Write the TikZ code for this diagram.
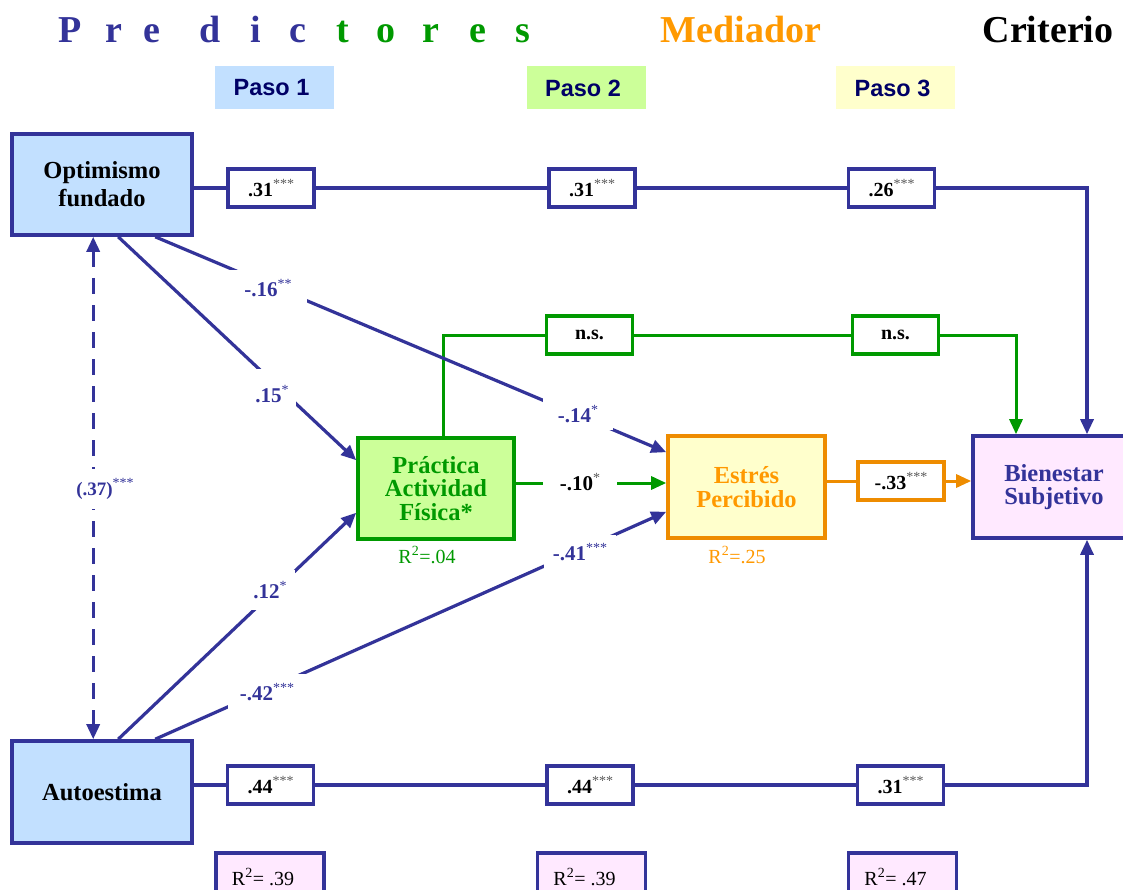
\documentclass[tikz,border=0pt]{standalone}
\usepackage{fontspec}
\setmainfont{Liberation Serif}
\newfontfamily\pasofont{Liberation Sans}
\usetikzlibrary{arrows.meta,calc}

\definecolor{navy}{HTML}{333399}
\definecolor{grn}{HTML}{009900}
\definecolor{orn}{HTML}{EE8C00}
\definecolor{orntext}{HTML}{FF9900}
\definecolor{blueFill}{HTML}{C2E0FF}
\definecolor{greenFill}{HTML}{CCFF99}
\definecolor{yellowFill}{HTML}{FFFFCC}
\definecolor{pinkFill}{HTML}{FFE9FF}
\definecolor{pasotext}{HTML}{000066}

% significance stars
\newcommand\sg[1]{\raisebox{0.42em}{\fontsize{14}{14}\selectfont\mdseries #1}}
\newcommand\gsg[1]{\textcolor{black!65}{\sg{#1}}}

\tikzset{
  every node/.style={inner sep=0pt},
  var/.style={draw=navy, line width=3.6pt, minimum width=180pt, minimum height=101pt,
    align=center, font=\fontsize{24.5}{28}\selectfont\bfseries},
  coef/.style={draw=navy, fill=white, line width=3.3pt, minimum width=86pt,
    minimum height=38pt, font=\fontsize{20}{22}\selectfont\bfseries},
  gap/.style={fill=white, font=\fontsize{21}{22}\selectfont\bfseries, text=navy},
  link/.style={draw=navy, line width=3.2pt},
  glink/.style={draw=grn, line width=3pt},
  olink/.style={draw=orn, line width=3pt},
  tip/.style={-{Triangle[length=15pt,width=13pt]}},
  ttl/.style={anchor=base, font=\fontsize{38}{40}\selectfont\bfseries},
  paso/.style={minimum width=119pt, minimum height=43pt, text=pasotext,
    font=\pasofont\fontsize{23.5}{24}\selectfont\bfseries},
  rsq/.style={draw=navy, fill=pinkFill, line width=3.3pt, minimum width=108pt,
    minimum height=48pt, font=\fontsize{20}{22}\selectfont},
  rlab/.style={font=\fontsize{20}{22}\selectfont}
}

\begin{document}
\begin{tikzpicture}[x=1pt,y=-1pt]
\useasboundingbox (0,0) rectangle (1123,890);
\clip (0,0) rectangle (1123,890);
\fill[white] (0,0) rectangle (1123,890);

% column headings
\foreach \ch/\xx/\cc in {P/70/navy, r/114/navy, e/152/navy, d/210/navy, i/256/navy,
  c/298/navy, t/343/grn, o/386/grn, r/431/grn, e/478/grn, s/523/grn}
  \node[ttl, text=\cc] (ttl\xx) at (\xx,43) {\ch};
\node[ttl, text=orntext] (med) at (741,43) {Mediador};
\node[ttl, text=black] (crit) at (1048,43) {Criterio};

\node[paso, fill=blueFill] (paso1) at (274.5,87.5) {Paso 1\hspace*{6pt}};
\node[paso, fill=greenFill] (paso2) at (586,88) {Paso 2\hspace*{6pt}};
\node[paso, fill=yellowFill] (paso3) at (895.5,88) {Paso 3\hspace*{6pt}};

% variables
\node[var, fill=blueFill] (opt) at (102,184.5) {Optimismo\\fundado};
\node[var, fill=blueFill, minimum height=102pt] (aut) at (102,792) {Autoestima};
\node[var, draw=grn, fill=greenFill, text=grn, minimum width=156pt,
  font=\fontsize{24.5}{23.5}\selectfont\bfseries] (pra) at (436,488.5)
  {Práctica\\Actividad\\Física*};
\node[var, draw=orn, fill=yellowFill, text=orntext, minimum width=157pt,
  minimum height=102pt, font=\fontsize{24.5}{23.5}\selectfont\bfseries] (est) at (746.5,487)
  {Estrés\\Percibido};
\node[var, fill=pinkFill, text=navy, minimum width=162pt, minimum height=102pt,
  font=\fontsize{24.5}{23.5}\selectfont\bfseries] (bien) at (1054,487)
  {Bienestar\\Subjetivo};

% coefficient boxes
\node[coef] (t1) at (271,188) {.31\gsg{***}};
\node[coef] (t2) at (592,188) {.31\gsg{***}};
\node[coef] (t3) at (891.5,188) {.26\gsg{***}};
\node[coef] (b1) at (270.5,785) {.44\gsg{***}};
\node[coef] (b2) at (590,785) {.44\gsg{***}};
\node[coef] (b3) at (900.5,785) {.31\gsg{***}};
\node[coef, draw=grn] (n1) at (589.5,335) {n.s.};
\node[coef, draw=grn] (n2) at (895.5,335) {n.s.};
\node[coef, draw=orn] (m33) at (901,481) {-.33\gsg{***}};

\coordinate (tr) at (1087,188);
\coordinate (br) at (1087,785);
\coordinate (gs) at (443,335);
\coordinate (ge) at (1016,335);

% direct paths to the criterion
\draw[link] (opt.east |- t1) -- (t1.west);
\draw[link] (t1.east) -- (t2.west);
\draw[link] (t2.east) -- (t3.west);
\draw[link, tip] (t3.east) -- (tr) -- (tr |- bien.north);

\draw[link] (aut.east |- b1) -- (b1.west);
\draw[link] (b1.east) -- (b2.west);
\draw[link] (b2.east) -- (b3.west);
\draw[link, tip] (b3.east) -- (br) -- (br |- bien.south);

\draw[glink] (pra.north -| gs) -- (gs) -- (n1.west);
\draw[glink] (n1.east) -- (n2.west);
\draw[glink, tip] (n2.east) -- (ge) -- (ge |- bien.north);

\draw[olink] (est.east |- m33) -- (m33.west);
\draw[olink, tip] (m33.east) -- (bien.west |- m33);

% paths to mediators
\draw[link, tip] ($(opt.south west)+(108,0)$) -- ($(pra.north west)+(0,24)$);
\draw[link, tip] ($(opt.south west)+(145,0)$) -- ($(est.north west)+(0,18)$);
\draw[link, tip] ($(aut.north west)+(108,0)$) -- ($(pra.south west)+(0,-28)$);
\draw[link, tip] ($(aut.north west)+(145,0)$) -- ($(est.south west)+(0,-28)$);
\draw[glink, tip] (pra.east |- 0,483) -- (est.west |- 0,483);

% correlation between predictors
\draw[link, dash pattern=on 16pt off 11pt, {Triangle[length=15pt,width=13pt]}-{Triangle[length=15pt,width=13pt]}]
  ($(opt.south west)+(83,0)$) -- ($(aut.north west)+(83,0)$);

% path coefficients
\node[gap, minimum width=78pt, minimum height=36pt] (l16) at (268,288) {-.16\sg{**}};
\node[gap, minimum width=70pt, minimum height=32pt] (l14) at (578,414) {-.14\sg{*}};
\node[gap, minimum width=48pt, minimum height=50pt] (l15) at (272,394) {.15\sg{*}};
\node[gap, minimum width=50pt, minimum height=40pt] (l12) at (270,590) {.12\sg{*}};
\node[gap, minimum width=78pt, minimum height=36pt] (l42) at (267,692) {-.42\sg{***}};
\node[gap, minimum width=72pt, minimum height=34pt] (l41) at (580,552) {-.41\sg{***}};
\node[gap, text=black, minimum width=74pt, minimum height=28pt] (l10) at (580,482) {-.10\gsg{*}};
\node[gap, minimum width=66pt, minimum height=40pt, font=\fontsize{19}{20}\selectfont\bfseries]
  (l37) at (105,489) {(.37)\sg{***}};

% explained variance
\node[rlab, text=grn] (r04) at (427,555) {R\textsuperscript{2}=.04};
\node[rlab, text=orntext] (r25) at (737,555) {R\textsuperscript{2}=.25};
\node[rsq] (s1) at (270,877) {R\textsuperscript{2}= .39\hspace*{14pt}};
\node[rsq] (s2) at (591.5,877) {R\textsuperscript{2}= .39\hspace*{14pt}};
\node[rsq] (s3) at (902.5,877) {R\textsuperscript{2}= .47\hspace*{14pt}};
\end{tikzpicture}
\end{document}
